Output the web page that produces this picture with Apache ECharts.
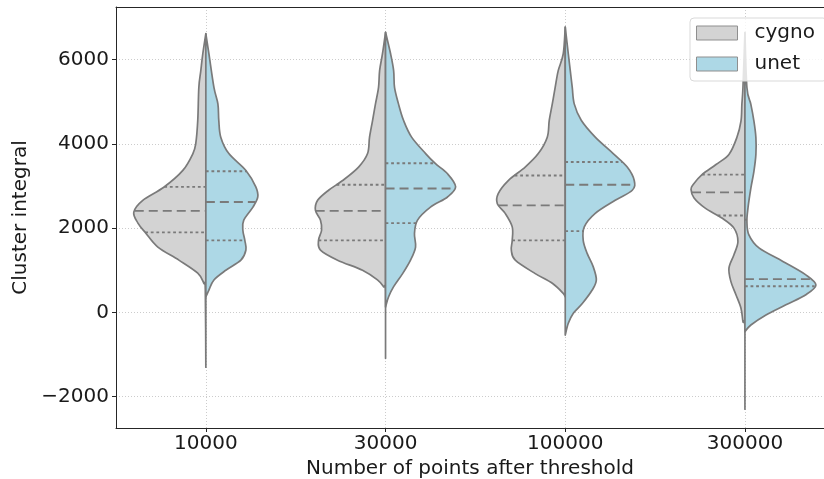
<!DOCTYPE html>
<html>
<head>
<meta charset="utf-8">
<script src="https://cdn.jsdelivr.net/npm/echarts@6/dist/echarts.min.js"></script>
<style>
  html, body { margin: 0; padding: 0; background: #fff; }
  #chart { width: 824px; height: 479px; }
</style>
</head>
<body>
<div id="chart"></div>
<script>
const categories = ['10000', '30000', '100000', '300000'];
const groups = ['cygno', 'unet'];
const yTicks = [-2000, 0, 2000, 4000, 6000];

// Density outlines of each half violin: cluster-integral values (top to bottom)
// and the matching half-widths, in units of the category spacing.
const cygno10000Y = [6620, 6140, 5740, 5340, 4560, 4010, 3770, 3370, 2970, 2660, 2380, 2120, 1880, 1550, 1240, 930, 690, 530, -1300];
const cygno10000W = [0, .017, .028, .039, .045, .056, .072, .128, .234, .351, .401, .378, .334, .267, .150, .045, .011, .003, 0];
const unet10000Y = [6610, 6140, 5340, 4950, 4560, 4160, 3770, 3370, 2980, 2740, 2500, 2190, 1950, 1710, 1480, 1240, 1000, 770, 530, 370];
const unet10000W = [0, .017, .045, .067, .072, .083, .128, .223, .278, .289, .262, .211, .206, .217, .223, .195, .111, .045, .017, 0];

const cygno30000Y = [6650, 6140, 5740, 5340, 4950, 4560, 4160, 3770, 3450, 3130, 2900, 2660, 2420, 2190, 1950, 1710, 1480, 1240, 1000, 770, 610, 490, -1090];
const cygno30000W = [0, .017, .033, .039, .056, .072, .089, .100, .150, .239, .317, .378, .390, .362, .356, .373, .362, .267, .128, .045, .011, 0, 0];
const unet30000Y = [6650, 6140, 5740, 5340, 4950, 4560, 4160, 3770, 3530, 3290, 2980, 2740, 2500, 2190, 1870, 1550, 1240, 920, 610, 370, 130];
const unet30000W = [0, .028, .045, .050, .072, .100, .145, .223, .278, .345, .390, .345, .250, .178, .161, .167, .139, .095, .045, .017, 0];

const cygno100000Y = [6770, 6140, 5740, 5340, 4950, 4560, 4160, 3770, 3450, 3130, 2820, 2580, 2350, 2030, 1710, 1480, 1240, 920, 690, 450, 370];
const cygno100000W = [0, .011, .039, .056, .072, .089, .100, .150, .223, .317, .373, .378, .334, .295, .295, .300, .278, .167, .072, .011, 0];
const unet100000Y = [6770, 6140, 5740, 5340, 4950, 4560, 4160, 3770, 3450, 3130, 2900, 2660, 2350, 2030, 1710, 1400, 1080, 770, 530, 210, -20, -260, -540];
const unet100000W = [0, .017, .028, .039, .050, .089, .167, .267, .345, .384, .373, .278, .167, .106, .100, .122, .156, .173, .150, .095, .045, .017, 0];

const cygno300000Y = [6640, 5340, 4940, 4540, 4150, 3750, 3510, 3270, 3030, 2920, 2720, 2480, 2240, 2000, 1680, 1370, 1050, 730, 420, 100, -220, -380, -2300];
const cygno300000W = [0, .011, .017, .022, .045, .089, .161, .239, .289, .300, .284, .223, .128, .061, .039, .061, .089, .078, .050, .022, .011, 0, 0];
const unet300000Y = [6640, 5340, 4940, 4540, 4150, 3750, 3350, 2950, 2480, 2160, 1840, 1530, 1210, 890, 650, 420, 180, -60, -300, -460];
const unet300000W = [0, .011, .033, .050, .061, .061, .050, .033, .017, .011, .022, .078, .211, .339, .395, .339, .228, .117, .033, 0];

// Quartiles and medians per category
const cygnoQ1 = [1900, 1710, 1710, 2300];
const cygnoMedian = [2410, 2410, 2540, 2850];
const cygnoQ3 = [2980, 3030, 3250, 3270];
const unetQ1 = [1710, 2120, 1930, 620];
const unetMedian = [2620, 2940, 3030, 790];
const unetQ3 = [3350, 3540, 3570, 2200];

const FONT = 'DejaVu Sans';
const TEXT = '#1a1a1a';
const SPINE = '#262626';
const EDGE = '#7a7a7a';

const halves = {
  cygno: {
    side: -1, fill: '#d3d3d3',
    profiles: [
      { y: cygno10000Y, w: cygno10000W }, { y: cygno30000Y, w: cygno30000W },
      { y: cygno100000Y, w: cygno100000W }, { y: cygno300000Y, w: cygno300000W }
    ],
    q1: cygnoQ1, median: cygnoMedian, q3: cygnoQ3
  },
  unet: {
    side: 1, fill: '#add8e6',
    profiles: [
      { y: unet10000Y, w: unet10000W }, { y: unet30000Y, w: unet30000W },
      { y: unet100000Y, w: unet100000W }, { y: unet300000Y, w: unet300000W }
    ],
    q1: unetQ1, median: unetMedian, q3: unetQ3
  }
};

// Half-width of a profile at a given value (linear between outline points)
function widthAt(p, v) {
  for (let k = 0; k < p.y.length - 1; k++) {
    const a = p.y[k], b = p.y[k + 1];
    if (v <= a && v >= b) {
      const t = (a - v) / (a - b);
      return p.w[k] + t * (p.w[k + 1] - p.w[k]);
    }
  }
  return 0;
}

// Smooth outline through the pixel points (Catmull-Rom as cubic Beziers), closed along the centre
function outlinePath(pts, cx) {
  let d = 'M' + pts[0][0] + ' ' + pts[0][1];
  const n = pts.length;
  const lim = x => (x - cx) * (pts[1][0] - cx) < 0 ? cx : x;
  for (let k = 0; k < n - 1; k++) {
    const p0 = pts[Math.max(k - 1, 0)], p1 = pts[k], p2 = pts[k + 1], p3 = pts[Math.min(k + 2, n - 1)];
    const c1x = lim(p1[0] + (p2[0] - p0[0]) / 6), c1y = p1[1] + (p2[1] - p0[1]) / 6;
    const c2x = lim(p2[0] - (p3[0] - p1[0]) / 6), c2y = p2[1] - (p3[1] - p1[1]) / 6;
    d += ' C' + c1x + ' ' + c1y + ' ' + c2x + ' ' + c2y + ' ' + p2[0] + ' ' + p2[1];
  }
  return d + ' Z';
}

function makeRenderer(h) {
  return function (params, api) {
    const i = api.value(0);
    const p = h.profiles[i];
    const pts = p.y.map((v, k) => api.coord([i + h.side * p.w[k], v]));
    const cx = api.coord([i, 0])[0];
    const children = [{
      type: 'path',
      shape: { pathData: outlinePath(pts, cx) },
      style: { fill: h.fill, stroke: EDGE, lineWidth: 1.7, lineJoin: 'round' }
    }];
    const inner = [
      { v: h.q1[i], dash: [2.8, 2.8] },
      { v: h.median[i], dash: [9, 5] },
      { v: h.q3[i], dash: [2.8, 2.8] }
    ];
    inner.forEach(q => {
      const w = widthAt(p, q.v);
      const a = api.coord([i + h.side * w, q.v]);
      const c = api.coord([i, q.v]);
      const from = h.side < 0 ? a : c, to = h.side < 0 ? c : a;
      children.push({
        type: 'line',
        shape: { x1: from[0], y1: from[1], x2: to[0], y2: to[1] },
        style: { stroke: EDGE, lineWidth: 1.9, lineDash: q.dash }
      });
    });
    return { type: 'group', children };
  };
}

const catIndex = categories.map((c, i) => [i, 0]);

const chart = echarts.init(document.getElementById('chart'));
chart.setOption({
  animation: false,
  backgroundColor: '#fff',
  grid: { left: 116, top: 7, right: 0, height: 421, outerBoundsMode: 'none' },
  legend: {
    orient: 'vertical', left: 690, top: 18,
    data: groups.map(g => ({
      name: g, icon: 'rect',
      itemStyle: { color: halves[g].fill, borderColor: '#8f8f8f', borderWidth: 1 }
    })),
    itemWidth: 41, itemHeight: 14, itemGap: 11,
    padding: [5, 12, 7, 6],
    backgroundColor: 'rgba(255,255,255,0.8)',
    borderColor: '#d9d9d9', borderWidth: 1, borderRadius: 4,
    textStyle: { fontFamily: FONT, fontSize: 20, color: TEXT, padding: [0, 0, 0, 12] }
  },
  xAxis: [{
    type: 'value', min: -0.5, max: 3.44,
    name: 'Number of points after threshold', nameLocation: 'middle', nameGap: 30,
    nameTextStyle: { fontFamily: FONT, fontSize: 20, color: TEXT },
    axisLine: { show: true, onZero: false, lineStyle: { color: SPINE, width: 1 } },
    axisTick: { show: true, customValues: [0, 1, 2, 3], length: 4, lineStyle: { color: SPINE } },
    axisLabel: {
      customValues: [0, 1, 2, 3], margin: 6,
      formatter: v => categories[Math.round(v)],
      fontFamily: FONT, fontSize: 20, color: TEXT
    },
    splitLine: { show: true, lineStyle: { color: '#cccccc', width: 1, type: [1, 2] } }
  }, {
    // top frame line
    type: 'value', position: 'top', min: -0.5, max: 3.44,
    axisLine: { show: true, onZero: false, lineStyle: { color: SPINE, width: 1 } },
    axisTick: { show: false }, axisLabel: { show: false }, splitLine: { show: false }
  }],
  yAxis: {
    type: 'value', min: -2745, max: 7250,
    name: 'Cluster integral', nameLocation: 'middle', nameGap: 84,
    nameTextStyle: { fontFamily: FONT, fontSize: 20, color: TEXT },
    axisLine: { show: true, onZero: false, lineStyle: { color: SPINE, width: 1 } },
    axisTick: { show: true, customValues: yTicks, length: 4, lineStyle: { color: SPINE } },
    axisLabel: {
      customValues: yTicks, margin: 7,
      formatter: v => (v < 0 ? '\u2212' + Math.abs(v) : String(v)),
      fontFamily: FONT, fontSize: 20, color: TEXT
    },
    splitLine: { show: true, lineStyle: { color: '#cccccc', width: 1, type: [1, 2] } }
  },
  series: groups.map(g => ({
    name: g,
    type: 'custom',
    itemStyle: { color: halves[g].fill },
    renderItem: makeRenderer(halves[g]),
    data: catIndex,
    z: 2
  }))
});
</script>
</body>
</html>
